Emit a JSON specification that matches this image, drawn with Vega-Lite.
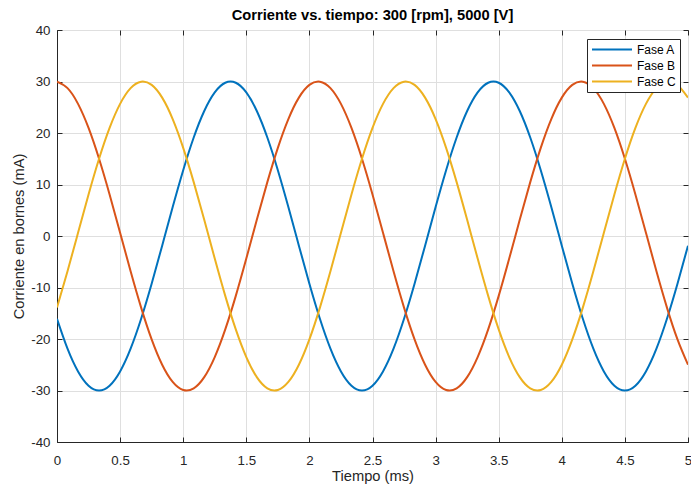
{
  "$schema": "https://vega.github.io/schema/vega-lite/v6.json",
  "width": 631,
  "height": 412,
  "autosize": {"type": "none"},
  "padding": {"left": 57, "top": 30, "right": 3, "bottom": 47},
  "background": "white",
  "title": {"text": "Corriente vs. tiempo: 300 [rpm], 5000 [V]", "font": "Liberation Sans", "fontSize": 14.7, "fontWeight": "bold", "color": "#000000", "anchor": "middle", "offset": 0},
  "config": {
    "view": {"stroke": "#262626", "strokeWidth": 1},
    "axis": {
      "domainColor": "#262626", "domainWidth": 1,
      "gridColor": "#dfdfdf", "gridWidth": 1,
      "tickColor": "#262626", "tickSize": -5, "tickWidth": 1,
      "labelFont": "Liberation Sans", "labelFontSize": 13.3, "labelColor": "#262626",
      "titleFont": "Liberation Sans", "titleFontSize": 14.7, "titleFontWeight": "normal", "titleColor": "#262626",
      "labelFlush": false, "labelOverlap": false
    },
    "legend": {"labelFont": "Liberation Sans", "labelFontSize": 12, "labelColor": "#000000"}
  },
  "data": {"values": [
    {"t":0,"s":"Fase A","i":-16.07},{"t":0.0833,"s":"Fase A","i":-21.87},{"t":0.1667,"s":"Fase A","i":-26.29},{"t":0.25,"s":"Fase A","i":-29.06},{"t":0.3333,"s":"Fase A","i":-30},{"t":0.4167,"s":"Fase A","i":-29.06},{"t":0.5,"s":"Fase A","i":-26.29},{"t":0.5833,"s":"Fase A","i":-21.87},{"t":0.6667,"s":"Fase A","i":-16.07},{"t":0.75,"s":"Fase A","i":-9.27},{"t":0.8333,"s":"Fase A","i":-1.88},{"t":0.9167,"s":"Fase A","i":5.62},{"t":1,"s":"Fase A","i":12.77},{"t":1.0833,"s":"Fase A","i":19.12},{"t":1.1667,"s":"Fase A","i":24.27},{"t":1.25,"s":"Fase A","i":27.89},{"t":1.3333,"s":"Fase A","i":29.76},{"t":1.4167,"s":"Fase A","i":29.76},{"t":1.5,"s":"Fase A","i":27.89},{"t":1.5833,"s":"Fase A","i":24.27},{"t":1.6667,"s":"Fase A","i":19.12},{"t":1.75,"s":"Fase A","i":12.77},{"t":1.8333,"s":"Fase A","i":5.62},{"t":1.9167,"s":"Fase A","i":-1.88},{"t":2,"s":"Fase A","i":-9.27},{"t":2.0833,"s":"Fase A","i":-16.07},{"t":2.1667,"s":"Fase A","i":-21.87},{"t":2.25,"s":"Fase A","i":-26.29},{"t":2.3333,"s":"Fase A","i":-29.06},{"t":2.4167,"s":"Fase A","i":-30},{"t":2.5,"s":"Fase A","i":-29.06},{"t":2.5833,"s":"Fase A","i":-26.29},{"t":2.6667,"s":"Fase A","i":-21.87},{"t":2.75,"s":"Fase A","i":-16.07},{"t":2.8333,"s":"Fase A","i":-9.27},{"t":2.9167,"s":"Fase A","i":-1.88},{"t":3,"s":"Fase A","i":5.62},{"t":3.0833,"s":"Fase A","i":12.77},{"t":3.1667,"s":"Fase A","i":19.12},{"t":3.25,"s":"Fase A","i":24.27},{"t":3.3333,"s":"Fase A","i":27.89},{"t":3.4167,"s":"Fase A","i":29.76},{"t":3.5,"s":"Fase A","i":29.76},{"t":3.5833,"s":"Fase A","i":27.89},{"t":3.6667,"s":"Fase A","i":24.27},{"t":3.75,"s":"Fase A","i":19.12},{"t":3.8333,"s":"Fase A","i":12.77},{"t":3.9167,"s":"Fase A","i":5.62},{"t":4,"s":"Fase A","i":-1.88},{"t":4.0833,"s":"Fase A","i":-9.27},{"t":4.1667,"s":"Fase A","i":-16.07},{"t":4.25,"s":"Fase A","i":-21.87},{"t":4.3333,"s":"Fase A","i":-26.29},{"t":4.4167,"s":"Fase A","i":-29.06},{"t":4.5,"s":"Fase A","i":-30},{"t":4.5833,"s":"Fase A","i":-29.06},{"t":4.6667,"s":"Fase A","i":-26.29},{"t":4.75,"s":"Fase A","i":-21.87},{"t":4.8333,"s":"Fase A","i":-16.07},{"t":4.9167,"s":"Fase A","i":-9.27},{"t":5,"s":"Fase A","i":-1.88},
    {"t":0,"s":"Fase B","i":29.97},{"t":0.0833,"s":"Fase B","i":28.72},{"t":0.1667,"s":"Fase B","i":25.66},{"t":0.25,"s":"Fase B","i":20.99},{"t":0.3333,"s":"Fase B","i":15},{"t":0.4167,"s":"Fase B","i":8.07},{"t":0.5,"s":"Fase B","i":0.63},{"t":0.5833,"s":"Fase B","i":-6.85},{"t":0.6667,"s":"Fase B","i":-13.9},{"t":0.75,"s":"Fase B","i":-20.07},{"t":0.8333,"s":"Fase B","i":-24.99},{"t":0.9167,"s":"Fase B","i":-28.33},{"t":1,"s":"Fase B","i":-29.89},{"t":1.0833,"s":"Fase B","i":-29.58},{"t":1.1667,"s":"Fase B","i":-27.41},{"t":1.25,"s":"Fase B","i":-23.51},{"t":1.3333,"s":"Fase B","i":-18.14},{"t":1.4167,"s":"Fase B","i":-11.63},{"t":1.5,"s":"Fase B","i":-4.38},{"t":1.5833,"s":"Fase B","i":3.14},{"t":1.6667,"s":"Fase B","i":10.46},{"t":1.75,"s":"Fase B","i":17.12},{"t":1.8333,"s":"Fase B","i":22.71},{"t":1.9167,"s":"Fase B","i":26.87},{"t":2,"s":"Fase B","i":29.34},{"t":2.0833,"s":"Fase B","i":29.97},{"t":2.1667,"s":"Fase B","i":28.72},{"t":2.25,"s":"Fase B","i":25.66},{"t":2.3333,"s":"Fase B","i":20.99},{"t":2.4167,"s":"Fase B","i":15},{"t":2.5,"s":"Fase B","i":8.07},{"t":2.5833,"s":"Fase B","i":0.63},{"t":2.6667,"s":"Fase B","i":-6.85},{"t":2.75,"s":"Fase B","i":-13.9},{"t":2.8333,"s":"Fase B","i":-20.07},{"t":2.9167,"s":"Fase B","i":-24.99},{"t":3,"s":"Fase B","i":-28.33},{"t":3.0833,"s":"Fase B","i":-29.89},{"t":3.1667,"s":"Fase B","i":-29.58},{"t":3.25,"s":"Fase B","i":-27.41},{"t":3.3333,"s":"Fase B","i":-23.51},{"t":3.4167,"s":"Fase B","i":-18.14},{"t":3.5,"s":"Fase B","i":-11.63},{"t":3.5833,"s":"Fase B","i":-4.38},{"t":3.6667,"s":"Fase B","i":3.14},{"t":3.75,"s":"Fase B","i":10.46},{"t":3.8333,"s":"Fase B","i":17.12},{"t":3.9167,"s":"Fase B","i":22.71},{"t":4,"s":"Fase B","i":26.87},{"t":4.0833,"s":"Fase B","i":29.34},{"t":4.1667,"s":"Fase B","i":29.97},{"t":4.25,"s":"Fase B","i":28.72},{"t":4.3333,"s":"Fase B","i":25.66},{"t":4.4167,"s":"Fase B","i":20.99},{"t":4.5,"s":"Fase B","i":15},{"t":4.5833,"s":"Fase B","i":8.07},{"t":4.6667,"s":"Fase B","i":0.63},{"t":4.75,"s":"Fase B","i":-6.85},{"t":4.8333,"s":"Fase B","i":-13.9},{"t":4.9167,"s":"Fase B","i":-20.07},{"t":5,"s":"Fase B","i":-24.99},
    {"t":0,"s":"Fase C","i":-13.9},{"t":0.0833,"s":"Fase C","i":-6.85},{"t":0.1667,"s":"Fase C","i":0.63},{"t":0.25,"s":"Fase C","i":8.07},{"t":0.3333,"s":"Fase C","i":15},{"t":0.4167,"s":"Fase C","i":20.99},{"t":0.5,"s":"Fase C","i":25.66},{"t":0.5833,"s":"Fase C","i":28.72},{"t":0.6667,"s":"Fase C","i":29.97},{"t":0.75,"s":"Fase C","i":29.34},{"t":0.8333,"s":"Fase C","i":26.87},{"t":0.9167,"s":"Fase C","i":22.71},{"t":1,"s":"Fase C","i":17.12},{"t":1.0833,"s":"Fase C","i":10.46},{"t":1.1667,"s":"Fase C","i":3.14},{"t":1.25,"s":"Fase C","i":-4.38},{"t":1.3333,"s":"Fase C","i":-11.63},{"t":1.4167,"s":"Fase C","i":-18.14},{"t":1.5,"s":"Fase C","i":-23.51},{"t":1.5833,"s":"Fase C","i":-27.41},{"t":1.6667,"s":"Fase C","i":-29.58},{"t":1.75,"s":"Fase C","i":-29.89},{"t":1.8333,"s":"Fase C","i":-28.33},{"t":1.9167,"s":"Fase C","i":-24.99},{"t":2,"s":"Fase C","i":-20.07},{"t":2.0833,"s":"Fase C","i":-13.9},{"t":2.1667,"s":"Fase C","i":-6.85},{"t":2.25,"s":"Fase C","i":0.63},{"t":2.3333,"s":"Fase C","i":8.07},{"t":2.4167,"s":"Fase C","i":15},{"t":2.5,"s":"Fase C","i":20.99},{"t":2.5833,"s":"Fase C","i":25.66},{"t":2.6667,"s":"Fase C","i":28.72},{"t":2.75,"s":"Fase C","i":29.97},{"t":2.8333,"s":"Fase C","i":29.34},{"t":2.9167,"s":"Fase C","i":26.87},{"t":3,"s":"Fase C","i":22.71},{"t":3.0833,"s":"Fase C","i":17.12},{"t":3.1667,"s":"Fase C","i":10.46},{"t":3.25,"s":"Fase C","i":3.14},{"t":3.3333,"s":"Fase C","i":-4.38},{"t":3.4167,"s":"Fase C","i":-11.63},{"t":3.5,"s":"Fase C","i":-18.14},{"t":3.5833,"s":"Fase C","i":-23.51},{"t":3.6667,"s":"Fase C","i":-27.41},{"t":3.75,"s":"Fase C","i":-29.58},{"t":3.8333,"s":"Fase C","i":-29.89},{"t":3.9167,"s":"Fase C","i":-28.33},{"t":4,"s":"Fase C","i":-24.99},{"t":4.0833,"s":"Fase C","i":-20.07},{"t":4.1667,"s":"Fase C","i":-13.9},{"t":4.25,"s":"Fase C","i":-6.85},{"t":4.3333,"s":"Fase C","i":0.63},{"t":4.4167,"s":"Fase C","i":8.07},{"t":4.5,"s":"Fase C","i":15},{"t":4.5833,"s":"Fase C","i":20.99},{"t":4.6667,"s":"Fase C","i":25.66},{"t":4.75,"s":"Fase C","i":28.72},{"t":4.8333,"s":"Fase C","i":29.97},{"t":4.9167,"s":"Fase C","i":29.34},{"t":5,"s":"Fase C","i":26.87}
  ]},
  "layer": [
    {
      "mark": {"type": "line", "interpolate": "natural", "strokeWidth": 2, "clip": true},
      "encoding": {
        "x": {"field": "t", "type": "quantitative", "scale": {"domain": [0, 5], "nice": false, "zero": false},
          "axis": {"title": "Tiempo (ms)", "values": [0, 0.5, 1, 1.5, 2, 2.5, 3, 3.5, 4, 4.5, 5], "labelExpr": "'' + datum.value", "labelPadding": 16, "titlePadding": 2}},
        "y": {"field": "i", "type": "quantitative", "scale": {"domain": [-40, 40], "nice": false},
          "axis": {"title": "Corriente en bornes (mA)", "values": [-40, -30, -20, -10, 0, 10, 20, 30, 40], "labelExpr": "'' + datum.value", "labelPadding": 12, "titlePadding": 4}},
        "color": {"field": "s", "type": "nominal",
          "scale": {"domain": ["Fase A", "Fase B", "Fase C"], "range": ["#0072BD", "#D95319", "#EDB120"]},
          "legend": {"title": null, "orient": "none", "legendX": 530, "legendY": 9, "fillColor": "white", "strokeColor": "#262626", "padding": 4, "symbolType": "stroke", "symbolSize": 1600, "symbolStrokeWidth": 2, "clipHeight": 13, "rowPadding": 3, "labelOffset": 4}}
      }
    },
    {
      "mark": {"type": "point", "opacity": 0},
      "encoding": {
        "x": {"field": "t", "type": "quantitative", "scale": {"domain": [0, 5], "nice": false, "zero": false},
          "axis": {"orient": "top", "title": null, "labels": false, "grid": false, "domain": false, "values": [0, 0.5, 1, 1.5, 2, 2.5, 3, 3.5, 4, 4.5, 5]}},
        "y": {"field": "i", "type": "quantitative", "scale": {"domain": [-40, 40], "nice": false},
          "axis": {"orient": "right", "title": null, "labels": false, "grid": false, "domain": false, "values": [-40, -30, -20, -10, 0, 10, 20, 30, 40]}}
      }
    }
  ],
  "resolve": {"axis": {"x": "independent", "y": "independent"}}
}
